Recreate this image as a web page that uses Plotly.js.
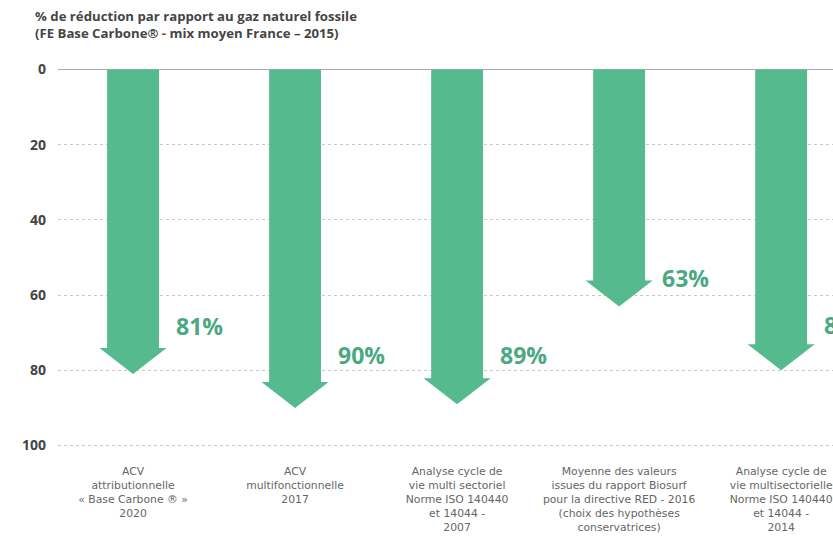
<!DOCTYPE html>
<html>
<head>
<meta charset="utf-8">
<script src="https://cdn.plot.ly/plotly-3.0.1.min.js"></script>
<style>html,body{margin:0;padding:0;background:#fff;overflow:hidden}#chart{width:833px;height:540px}</style>
</head>
<body>
<div id="chart"></div>
<script>
// ---- data ----
const categories = [
  "ACV<br>attributionnelle<br>« Base Carbone ® »<br>2020",
  "ACV<br>multifonctionnelle<br>2017",
  "Analyse cycle de<br>vie multi sectoriel<br>Norme ISO 140440<br>et 14044 -<br>2007",
  "Moyenne des valeurs<br>issues du rapport Biosurf<br>pour la directive RED - 2016<br>(choix des hypothèses<br>conservatrices)",
  "Analyse cycle de<br>vie multisectorielle<br>Norme ISO 140440<br>et 14044 -<br>2014"
];
const reduction = [81, 90, 89, 63, 80];
const valueLabels = ["81%", "90%", "89%", "63%", "80%"];
const yTicks = [0, 20, 40, 60, 80, 100];

// ---- style ----
const green = "#55bb8e";
const labelGreen = "#4aa981";
const headLen = 6.6;     // arrow head length in axis units
const headHalf = 0.207;  // arrow head half-width in category units
const shaftW = 0.32;
const labelLift = [48, 53, 49, 28, 45]; // px above arrow tip (label placement style)
const xs = categories.map((_, i) => i);

const traces = [{
  type: "bar",
  x: xs,
  y: reduction.map(v => v - headLen),
  base: 0,
  width: shaftW,
  marker: {color: green, line: {width: 0}},
  hoverinfo: "skip"
}];
reduction.forEach((v, i) => {
  traces.push({
    type: "scatter", mode: "lines", fill: "toself",
    x: [i - headHalf, i + headHalf, i, i - headHalf],
    y: [v - headLen - 0.3, v - headLen - 0.3, v, v - headLen - 0.3],
    line: {width: 0, color: green}, fillcolor: green, hoverinfo: "skip"
  });
});

const annotations = reduction.map((v, i) => ({
  x: i, y: v, xref: "x", yref: "y",
  text: valueLabels[i], showarrow: false,
  xanchor: "left", yanchor: "middle", xshift: 41, yshift: labelLift[i],
  font: {family: "Open Sans", size: 23, color: labelGreen, weight: "bold"}
}));
annotations.push({
  xref: "paper", yref: "paper",
  x: (33 - 58) / 775, y: 1 + (62 - 5) / 391,
  xanchor: "left", yanchor: "top", align: "left", showarrow: false,
  text: "% de réduction par rapport au gaz naturel fossile<br>(FE Base Carbone® - mix moyen France – 2015)",
  font: {family: "Open Sans", size: 13.2, color: "#454545", weight: "bold"}
});

const layout = {
  width: 833, height: 540,
  margin: {l: 58, r: 0, t: 62, b: 87},
  paper_bgcolor: "#fff", plot_bgcolor: "#fff",
  showlegend: false,
  font: {family: "Open Sans", color: "#555"},
  xaxis: {
    range: [-0.463, 4.32],
    tickmode: "array", tickvals: xs, ticktext: categories,
    showgrid: false, zeroline: false, showline: false, ticks: "",
    ticklabelstandoff: 10, ticklabeloverflow: "allow",
    tickfont: {family: "DejaVu Sans", size: 10.8, color: "#666"},
    fixedrange: true
  },
  yaxis: {
    range: [102, -2],
    tickmode: "array", tickvals: yTicks, ticktext: yTicks.map(String),
    showgrid: true, gridcolor: "#c8c8c8", griddash: "dot", gridwidth: 1,
    zeroline: true, zerolinecolor: "#aaaaaa", zerolinewidth: 1.5,
    showline: false, ticks: "", ticklabelstandoff: 11,
    tickfont: {family: "Open Sans", size: 14, color: "#444", weight: "bold"},
    fixedrange: true
  },
  annotations: annotations
};

Plotly.newPlot("chart", traces, layout, {displayModeBar: false, staticPlot: true});
</script>
</body>
</html>
